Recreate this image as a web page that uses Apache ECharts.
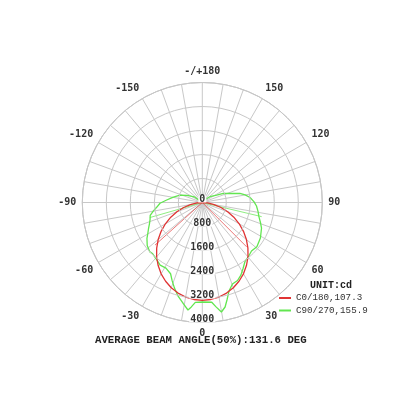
<!DOCTYPE html>
<html>
<head>
<meta charset="utf-8">
<script src="https://cdn.jsdelivr.net/npm/echarts@6/dist/echarts.min.js"></script>
<style>html,body{margin:0;padding:0;background:#fff;}#c{width:416px;height:416px;}</style>
</head>
<body>
<div id="c"></div>
<script>
// C0/180 plane (red)
var redAngles = [-90,-85,-80,-75,-70,-65,-60,-55,-50,-45,-40,-35,-30,-25,-20,-15,-10,-5,0,5,10,15,20,25,30,35,40,45,50,55,60,65,70,75,80,85,90];
var redValues = [0,175,400,645,900,1160,1420,1675,1920,2150,2370,2565,2745,2895,3025,3125,3200,3245,3260,3245,3200,3125,3025,2895,2745,2565,2370,2150,1920,1675,1420,1160,900,645,400,175,0];
// C90/270 plane (green)
var greenAngles = [-180,-140,-125,-115,-108,-100,-94,-89,-84,-80,-76,-72,-68,-64,-60,-57,-52,-47,-44,-38,-34,-29,-24,-21,-18,-14.6,-10.5,-7.6,-6,-4,0,5.4,7.5,9.9,12.3,14.2,16.8,20.3,24.3,28,31.7,35.9,40.5,45.4,51,58.6,66.7,71,75.7,81,86.3,91,96,100,103.7,108,113.7,117.5,127,140,180];
var greenValues = [0,60,330,560,785,1000,1190,1410,1530,1660,1790,1830,1900,1995,2100,2200,2330,2400,2380,2445,2515,2500,2600,2800,3000,3220,3440,3615,3500,3335,3317,3340,3510,3705,3565,3353,3080,2897,2853,2740,2585,2427,2369,2303,2340,2270,2150,2050,1950,1880,1810,1720,1600,1450,1290,970,765,540,320,120,0];
// straight strokes from the centre seen in the original
var redChordAngles = [-48, 45];
var redChordValues = [2120, 2090];
var greenChordAngles = [-74, 76.6];
var greenChordValues = [1820, 2035];
var radiusTicks = [0, 800, 1600, 2400, 3200, 4000];
var redName = 'C0/180,107.3';
var greenName = 'C90/270,155.9';

function toDeg(a){ return a < 0 ? a + 360 : a; }
function pairs(angles, values){ return angles.map(function(a,i){ return [values[i], toDeg(a)]; }); }

var RED = '#e03434', GREEN = '#62e650';
var series = [
  {name: redName, type:'line', coordinateSystem:'polar', data: pairs(redAngles, redValues), showSymbol:false, smooth:false, lineStyle:{color:RED, width:1.3}, itemStyle:{color:RED}, z:3},
  {name: greenName, type:'line', coordinateSystem:'polar', data: pairs(greenAngles, greenValues), showSymbol:false, lineStyle:{color:GREEN, width:1.3}, itemStyle:{color:GREEN}, z:2}
];
redChordAngles.forEach(function(a,i){
  series.push({name: redName, type:'line', coordinateSystem:'polar', data:[[0,toDeg(a)],[redChordValues[i],toDeg(a)]], showSymbol:false, lineStyle:{color:RED, width:0.9, opacity:0.75}, itemStyle:{color:RED}, z:3});
});
greenChordAngles.forEach(function(a,i){
  series.push({name: greenName, type:'line', coordinateSystem:'polar', data:[[0,toDeg(a)],[greenChordValues[i],toDeg(a)]], showSymbol:false, lineStyle:{color:GREEN, width:0.9, opacity:0.8}, itemStyle:{color:GREEN}, z:2});
});

var chart = echarts.init(document.getElementById('c'), null, {renderer:'canvas'});
chart.setOption({
  animation:false,
  backgroundColor:'#fff',
  title:[
    {text:'AVERAGE BEAM ANGLE(50%):131.6 DEG', left:95, top:335, padding:0,
     textStyle:{fontFamily:'Liberation Mono', fontWeight:'bold', fontSize:10.7, color:'#222'}},
    {text:'UNIT:cd', left:310, top:280, padding:0,
     textStyle:{fontFamily:'Liberation Mono', fontWeight:'bold', fontSize:10, color:'#222'}}
  ],
  legend:{
    data:[redName, greenName], orient:'vertical', left:279, top:293, padding:0,
    itemWidth:12, itemHeight:2, itemGap:2.5, icon:'rect',
    textStyle:{fontFamily:'Liberation Mono', fontSize:9.2, color:'#333', lineHeight:10}
  },
  polar:{center:[202.3, 202.5], radius:120},
  angleAxis:{
    type:'value', min:0, max:360, interval:10, startAngle:270, clockwise:false,
    axisLine:{show:true, lineStyle:{color:'#bdbdbd', width:1}},
    axisTick:{show:false},
    splitLine:{show:true, lineStyle:{color:'#c8c8c8', width:1}},
    axisLabel:{margin:6, fontFamily:'DejaVu Sans Mono', fontWeight:'bold', fontSize:10, color:'#333',
      formatter:function(v){
        if (v % 30 !== 0 || v === 360) return '';
        if (v === 180) return '-/+180';
        return v > 180 ? String(v - 360) : String(v);
      }}
  },
  radiusAxis:{
    type:'value', min:radiusTicks[0], max:radiusTicks[radiusTicks.length-1], interval:radiusTicks[1]-radiusTicks[0],
    axisLine:{show:false}, axisTick:{show:false},
    splitLine:{show:true, lineStyle:{color:'#c8c8c8', width:1}},
    axisLabel:{margin:0, align:'center', verticalAlign:'bottom', lineHeight:7,
      fontFamily:'DejaVu Sans Mono', fontWeight:'bold', fontSize:10, color:'#333',
      backgroundColor:'#fff', padding:[0,1,0,1],
      formatter:function(v){ return String(v); }},
    z:5
  },
  series:series
});
</script>
</body>
</html>
